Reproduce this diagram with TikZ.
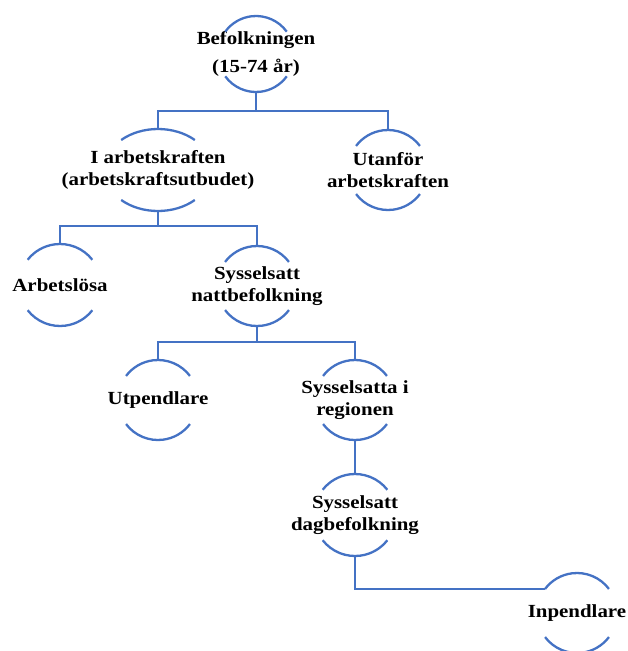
\documentclass[tikz,border=0pt]{standalone}
\usepackage{fontspec}
\setmainfont{Liberation Serif}[FakeStretch=1.13]
\usepackage{tikz}
\definecolor{linkblue}{HTML}{4472C4}

% top and bottom arc of a group: node, angle, x radius, y radius
\newcommand{\ringarcs}[4]{%
  \draw[link] ([shift={(#2:#3pt and #4pt)}]#1.center) arc[start angle=#2, end angle=180-#2, x radius=#3pt, y radius=#4pt];
  \draw[link] ([shift={(180+#2:#3pt and #4pt)}]#1.center) arc[start angle=180+#2, end angle=360-#2, x radius=#3pt, y radius=#4pt];
}

\begin{document}
\begin{tikzpicture}[x=1pt,y=1pt,
    unit/.style={align=center, inner sep=0pt, minimum height=80pt,
      font=\bfseries\fontsize{18.5}{22}\selectfont},
    link/.style={draw=linkblue, line width=2.3pt}]
    \useasboundingbox (0,0) rectangle (627,-651);
    \node[unit, minimum height=76pt] (a) at (256,-54) {Befolkningen\\[6pt](15-74 år)};
    \node[unit, minimum height=82pt] (b) at (158,-170) {I arbetskraften\\(arbetskraftsutbudet)};
    \node[unit] (c) at (388,-170) {Utanför\\arbetskraften};
    \node[unit, minimum height=82pt] (d) at (60,-285) {Arbetslösa};
    \node[unit] (e) at (257,-286) {Sysselsatt\\nattbefolkning};
    \node[unit] (f) at (158,-400) {Utpendlare};
    \node[unit] (g) at (355,-400) {Sysselsatta i\\regionen};
    \node[unit, minimum height=82pt] (h) at (355,-515) {Sysselsatt\\dagbefolkning};
    \node[unit] (i) at (577,-613) {Inpendlare};
    \ringarcs{a}{36}{38}{38}
    \ringarcs{b}{47}{54}{41}
    \ringarcs{c}{37}{40}{40}
    \ringarcs{d}{38}{41}{41}
    \ringarcs{e}{37}{40}{40}
    \ringarcs{f}{37}{40}{40}
    \ringarcs{g}{37}{40}{40}
    \ringarcs{h}{38}{41}{41}
    \ringarcs{i}{37}{40}{40}
    % tree
    \draw[link] (a.south) -- ++(0,-19) -| (b.north);
    \draw[link] (a.south) -- ++(0,-19) -| (c.north);
    \draw[link] (b.south) -- ++(0,-15) -| (d.north);
    \draw[link] (b.south) -- ++(0,-15) -| (e.north);
    \draw[link] (e.south) -- ++(0,-16) -| (f.north);
    \draw[link] (e.south) -- ++(0,-16) -| (g.north);
    \draw[link] (g.south) -- (h.north);
    \draw[link] (h.south) |- ([shift={(143:40pt)}]i.center);
\end{tikzpicture}
\end{document}
